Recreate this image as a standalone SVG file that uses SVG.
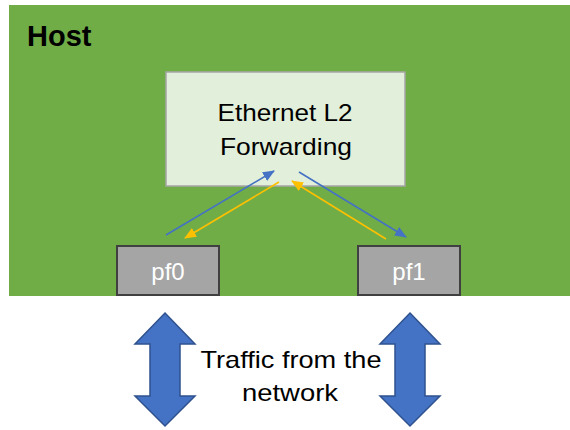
<svg xmlns="http://www.w3.org/2000/svg" width="570" height="430" viewBox="0 0 570 430">
<style>
.t{font-family:"Liberation Sans",Arial,sans-serif;font-size:24px;fill:#000;text-anchor:middle}
.p{font-family:"Liberation Sans",Arial,sans-serif;font-size:24px;fill:#fff;text-anchor:middle}
.port{fill:#a5a5a5;stroke:#404040;stroke-width:2}
.bl{stroke:#4472c4;stroke-width:1.6;fill:none}
.yl{stroke:#ffc000;stroke-width:1.6;fill:none}
.dbl{fill:#4472c4;stroke:#2f528f;stroke-width:1.5}
</style>
<defs>
<marker id="ab" markerWidth="12" markerHeight="10" refX="11" refY="5" orient="auto" markerUnits="userSpaceOnUse"><path d="M0,0 L12,5 L0,10 Z" fill="#4472c4"/></marker>
<marker id="ay" markerWidth="12" markerHeight="10" refX="11" refY="5" orient="auto" markerUnits="userSpaceOnUse"><path d="M0,0 L12,5 L0,10 Z" fill="#ffc000"/></marker>
</defs>
<g id="host">
<rect x="9" y="5" width="561" height="291" fill="#70ad47"/>
<text x="27" y="46" font-family="'Liberation Sans',Arial,sans-serif" font-size="29" font-weight="bold" fill="#000">Host</text>
</g>
<g id="l2fwd">
<rect x="166" y="72" width="239" height="114" fill="#e2efda" stroke="#a5a5a5" stroke-width="1.5"/>
<text class="t" x="285" y="121" textLength="135" lengthAdjust="spacingAndGlyphs">Ethernet L2</text>
<text class="t" x="286" y="155" textLength="132" lengthAdjust="spacingAndGlyphs">Forwarding</text>
</g>
<g id="pf0">
<rect class="port" x="117" y="246" width="102" height="49"/>
<text class="p" x="168" y="280">pf0</text>
</g>
<g id="pf1">
<rect class="port" x="358" y="246" width="102" height="49"/>
<text class="p" x="409" y="280">pf1</text>
</g>
<g id="connectors">
<line class="bl" x1="166" y1="235" x2="274" y2="171" marker-end="url(#ab)"/>
<line class="yl" x1="279" y1="182" x2="185" y2="238" marker-end="url(#ay)"/>
<line class="bl" x1="299" y1="172" x2="406" y2="237" marker-end="url(#ab)"/>
<line class="yl" x1="386" y1="239" x2="292" y2="181" marker-end="url(#ay)"/>
</g>
<g id="traffic-left">
<polygon class="dbl" points="165,313 195,344 180,344 180,396 195,396 165,426 135,396 150,396 150,344 135,344"/>
</g>
<g id="traffic-right">
<polygon class="dbl" points="410,313 440,344 425,344 425,396 440,396 410,426 380,396 395,396 395,344 380,344"/>
</g>
<g id="traffic-label">
<text class="t" x="291" y="368" textLength="181" lengthAdjust="spacingAndGlyphs">Traffic from the</text>
<text class="t" x="290" y="401" textLength="96" lengthAdjust="spacingAndGlyphs">network</text>
</g>
</svg>
